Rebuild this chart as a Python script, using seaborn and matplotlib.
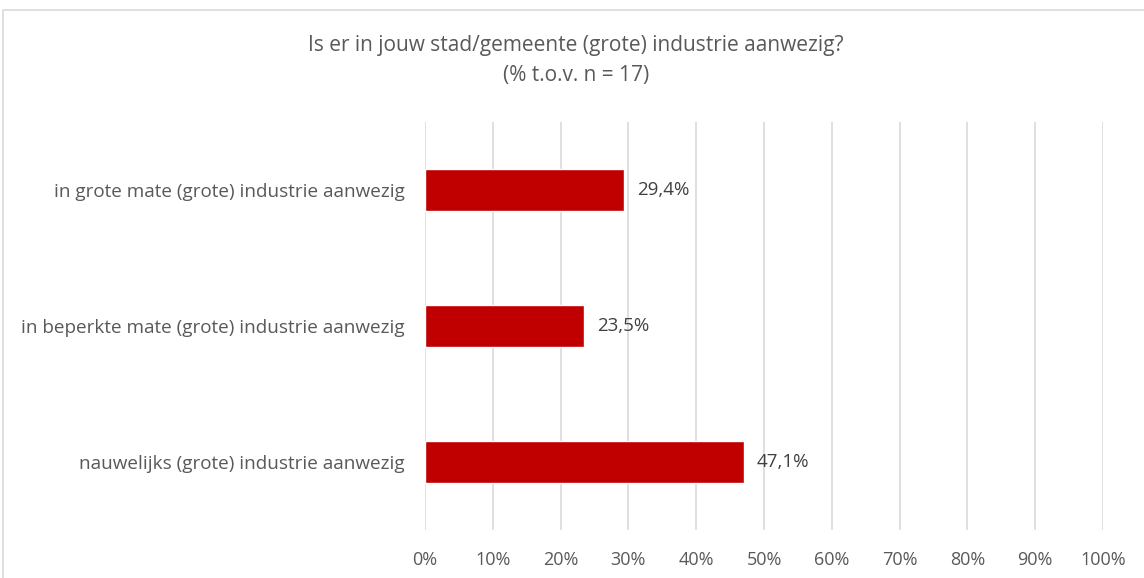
import matplotlib
matplotlib.use("Agg")
import matplotlib.pyplot as plt
import seaborn as sns
import pandas as pd
from matplotlib.patches import Rectangle
from matplotlib.ticker import FuncFormatter

categories = [
    "in grote mate (grote) industrie aanwezig",
    "in beperkte mate (grote) industrie aanwezig",
    "nauwelijks (grote) industrie aanwezig",
]
values = [29.4, 23.5, 47.1]
xticks = [0, 10, 20, 30, 40, 50, 60, 70, 80, 90, 100]
title_lines = ["Is er in jouw stad/gemeente (grote) industrie aanwezig?", "(% t.o.v. n = 17)"]

sns.set_theme(style="white")
plt.rcParams["font.family"] = ["Open Sans", "DejaVu Sans"]

df = pd.DataFrame({"cat": categories, "val": values})

fig = plt.figure(figsize=(11.44, 5.78), dpi=100)
ax = fig.add_axes([425/1144, 1-530/578, (1103-425)/1144, (530-122)/578])

sns.barplot(data=df, x="val", y="cat", color="#C00000", width=0.31,
            saturation=1, ax=ax, zorder=3)

ax.set_xlim(0, 100)
ax.set_ylim(2.5, -0.5)
ax.set_xticks(xticks)
ax.xaxis.set_major_formatter(FuncFormatter(lambda v, p: f"{int(v)}%"))
ax.grid(axis="x", color="#D9D9D9", linewidth=1.2, zorder=0)
ax.grid(axis="y", visible=False)
for s in ax.spines.values():
    s.set_visible(False)
ax.set_xlabel("")
ax.set_ylabel("")
ax.tick_params(axis="x", colors="#595959", labelsize=13, pad=15, length=0)
ax.tick_params(axis="y", colors="#595959", labelsize=13.6, pad=14.5, length=0)

for c in ax.containers:
    ax.bar_label(c, labels=[f"{v:.1f}".replace(".", ",") + "%" for v in values],
                 padding=9, color="#404040", fontsize=13.5)

fig.text(0.5 + 4/1144, 1-45/578, title_lines[0],
         ha="center", va="center", fontsize=15, color="#595959")
fig.text(0.5 + 4/1144, 1-76/578, title_lines[1],
         ha="center", va="center", fontsize=15, color="#595959")

fig.patches.append(Rectangle((3/1144, -0.05), 1.1, 1-10/578+0.05, transform=fig.transFigure,
                             fill=False, edgecolor="#D9D9D9", linewidth=1.2))

fig.savefig("out.png", dpi=100)
